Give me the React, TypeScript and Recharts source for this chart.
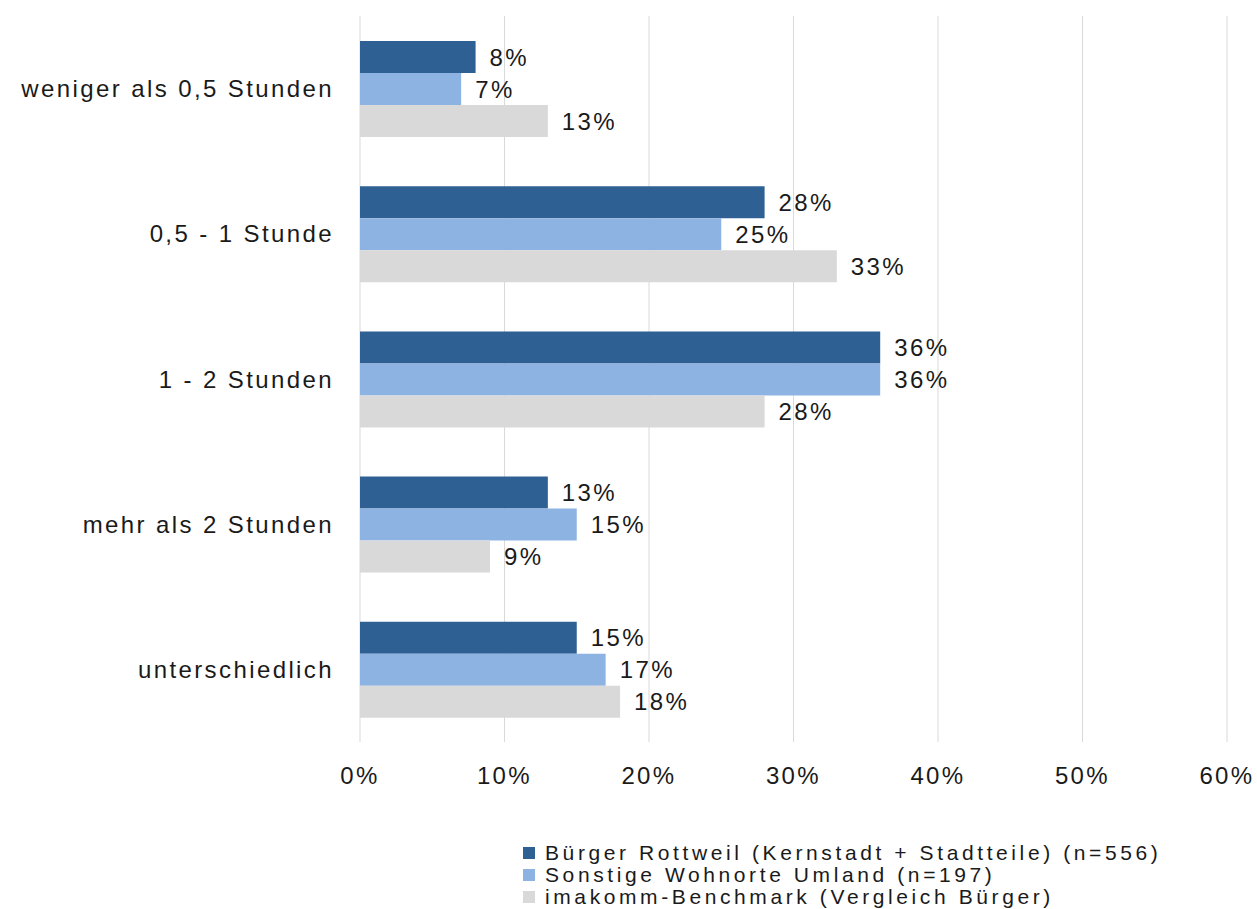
import React from "react";
import {
  BarChart,
  Bar,
  XAxis,
  YAxis,
  CartesianGrid,
  LabelList,
} from "recharts";

const categories = [
  "weniger als 0,5 Stunden",
  "0,5 - 1 Stunde",
  "1 - 2 Stunden",
  "mehr als 2 Stunden",
  "unterschiedlich",
];
const rottweil = [8, 28, 36, 13, 15];
const umland = [7, 25, 36, 15, 17];
const benchmark = [13, 33, 28, 9, 18];
const xTicks = [0, 10, 20, 30, 40, 50, 60];

const seriesNames = [
  "Bürger Rottweil (Kernstadt + Stadtteile) (n=556)",
  "Sonstige Wohnorte Umland (n=197)",
  "imakomm-Benchmark (Vergleich Bürger)",
];
const colors = ["#2f6094", "#8db3e2", "#d9d9d9"];

const data = categories.map((name, i) => ({
  name,
  rottweil: rottweil[i],
  umland: umland[i],
  benchmark: benchmark[i],
}));

const font = "'Liberation Sans', Arial, sans-serif";
const textStyle = { fontFamily: font, fontSize: 24, letterSpacing: 2.4 };

export default function App() {
  const keys = ["rottweil", "umland", "benchmark"];

  return (
    <div style={{ position: "absolute", left: 0, top: 0, width: 1257, height: 909, background: "#fff", overflow: "hidden" }}>
      <BarChart
        width={1257}
        height={909}
        data={data}
        layout="vertical"
        margin={{ top: 16, right: 30, bottom: 127, left: 0 }}
        barSize={32}
        barGap={0}
      >
        <CartesianGrid horizontal={false} stroke="#d9d9d9" />
        <XAxis
          type="number"
          domain={[0, 60]}
          ticks={xTicks}
          tickFormatter={(v) => `${v}%`}
          axisLine={false}
          tickLine={false}
          tickSize={0}
          tickMargin={25}
          height={40}
          tick={{ ...textStyle, fill: "#1a1a1a" }}
        />
        <YAxis
          type="category"
          dataKey="name"
          width={360}
          axisLine={false}
          tickLine={false}
          tickSize={0}
          tickMargin={26}
          tick={{ ...textStyle, fill: "#1a1a1a" }}
        />
        {keys.map((k, i) => (
          <Bar key={k} dataKey={k} fill={colors[i]} isAnimationActive={false}>
            <LabelList
              dataKey={k}
              position="right"
              offset={14}
              formatter={(v: any) => `${v}%`}
              style={{ ...textStyle, fill: "#1a1a1a" }}
            />
          </Bar>
        ))}
      </BarChart>

      <div style={{ position: "absolute", left: 523, top: 842, fontFamily: font, fontSize: 21, letterSpacing: 3.6, color: "#1a1a1a" }}>
        {seriesNames.map((n, i) => (
          <div key={n} style={{ display: "flex", alignItems: "center", height: 22, lineHeight: "22px", whiteSpace: "nowrap" }}>
            <span style={{ display: "inline-block", width: 12, height: 12, background: colors[i], marginRight: 10 }} />
            <span>{n}</span>
          </div>
        ))}
      </div>
    </div>
  );
}
